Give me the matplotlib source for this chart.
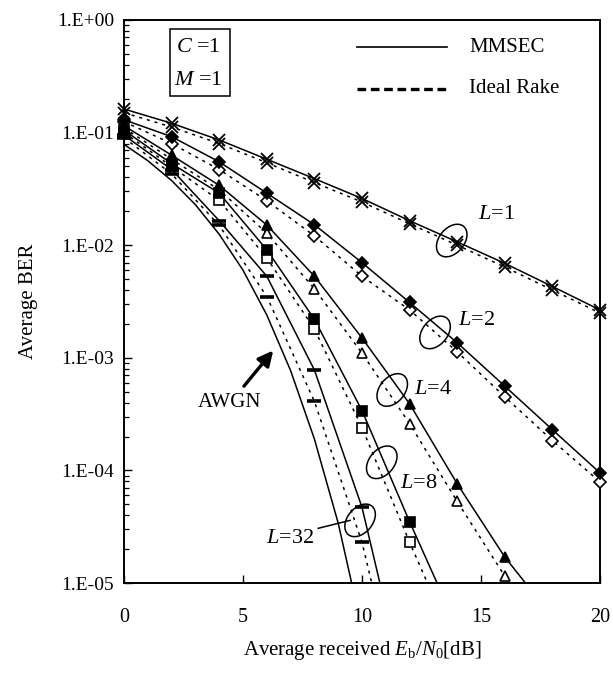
import numpy as np
import matplotlib
matplotlib.use("Agg")
import matplotlib.pyplot as plt
from matplotlib.patches import Ellipse, Rectangle
from matplotlib.lines import Line2D
import matplotlib.transforms as mtransforms
from matplotlib.ticker import LogLocator, NullFormatter, FixedLocator

plt.rcParams['font.family'] = ['Liberation Serif', 'DejaVu Serif']
plt.rcParams['mathtext.fontset'] = 'custom'
plt.rcParams['mathtext.rm'] = 'Liberation Serif'
plt.rcParams['mathtext.it'] = 'Liberation Serif:italic'

# ---------------- data ----------------
snr = [0, 2, 4, 6, 8, 10, 12, 14, 16, 18, 20]

L1_mmsec = [0.162, 0.121, 0.086, 0.058, 0.039, 0.026, 0.0165, 0.0107, 0.0069, 0.0043, 0.00266]
L1_ideal = [0.150, 0.112, 0.080, 0.054, 0.036, 0.0242, 0.0155, 0.0100, 0.0064, 0.0040, 0.00250]

L2_mmsec = [0.130, 0.092, 0.055, 0.029, 0.0152, 0.0070, 0.0031, 0.00136, 5.6e-4, 2.3e-4, 9.5e-5]
L2_ideal = [0.125, 0.080, 0.047, 0.0248, 0.0121, 0.0053, 0.00266, 0.00113, 4.5e-4, 1.84e-4, 7.9e-5]

snr_L4 = [0, 2, 4, 6, 8, 10, 12, 14, 16, 18]
L4_mmsec = [0.115, 0.063, 0.034, 0.0151, 0.0053, 0.0015, 3.9e-4, 7.6e-5, 1.7e-5, 5e-6]
L4_ideal = [0.110, 0.058, 0.031, 0.0128, 0.0041, 0.0011, 2.6e-4, 5.3e-5, 1.15e-5, 1.5e-6]

snr_L8 = [0, 2, 4, 6, 8, 10, 12, 14]
L8_mmsec = [0.105, 0.053, 0.029, 0.0091, 0.0022, 3.4e-4, 3.5e-5, 4e-6]
L8_ideal = [0.100, 0.050, 0.025, 0.0077, 0.0018, 2.4e-4, 2.3e-5, 2.5e-6]

snr_L32 = [0, 2, 4, 6, 8, 10, 11]
L32_mmsec = [0.095, 0.047, 0.0165, 0.0053, 7.8e-4, 4.7e-5, 6e-6]
L32_ideal = [0.090, 0.043, 0.0150, 0.0035, 4.1e-4, 2.3e-5, 3e-6]

snr_awgn = [0, 1, 2, 3, 4, 5, 6, 7, 8, 9, 10]
awgn = [0.0786, 0.0563, 0.0375, 0.0229, 0.0125, 0.0060, 0.0024, 7.7e-4, 1.9e-4, 3.4e-5, 3.9e-6]

y_ticks = [1, 1e-1, 1e-2, 1e-3, 1e-4, 1e-5]
y_tick_labels = ["1.E+00", "1.E-01", "1.E-02", "1.E-03", "1.E-04", "1.E-05"]
x_ticks = [0, 5, 10, 15, 20]

# ---------------- figure ----------------
W, H, DPI = 613, 674, 100
fig = plt.figure(figsize=(W / DPI, H / DPI), dpi=DPI)
ax = fig.add_axes([124 / W, 1 - 583 / H, (600 - 124) / W, (583 - 20) / H])
ax.set_yscale('log')
ax.set_xlim(0, 20)
ax.set_ylim(1e-5, 1)

k = 'black'
lw = 1.1
dash = (0, (2.0, 3.2))

def curve(x, y, ls):
    ax.plot(x, y, color=k, lw=lw, linestyle=ls, solid_capstyle='butt', zorder=2)

def marks(x, y, m, filled, ms, mew=1.2):
    xs = [a for a, b in zip(x, y) if b >= 1e-5]
    ys = [b for b in y if b >= 1e-5]
    ax.plot(xs, ys, linestyle='none', marker=m, ms=ms, mew=mew, mec=k,
            mfc=k if filled else 'white', zorder=3, clip_on=False)

# lines
curve(snr, L1_mmsec, '-')
curve(snr, L1_ideal, dash)
curve(snr, L2_mmsec, '-')
curve(snr, L2_ideal, dash)
curve(snr_L4, L4_mmsec, '-')
curve(snr_L4, L4_ideal, dash)
curve(snr_L8, L8_mmsec, '-')
curve(snr_L8, L8_ideal, dash)
curve(snr_L32, L32_mmsec, '-')
curve(snr_L32, L32_ideal, dash)
curve(snr_awgn, awgn, '-')

# markers
marks(snr, L1_mmsec, 'x', True, 9, 1.3)
marks(snr, L1_ideal, 'x', True, 9, 1.3)
marks(snr, L2_ideal, 'D', False, 6)
marks(snr, L2_mmsec, 'D', True, 6)
marks(snr_L4, L4_ideal, '^', False, 7.5)
marks(snr_L4, L4_mmsec, '^', True, 7.5)
marks(snr_L8[:-1], L8_ideal[:-1], 's', False, 6.5)
marks(snr_L8[:-1], L8_mmsec[:-1], 's', True, 6.5)
marks(snr_L32[:-1], L32_mmsec[:-1], '_', True, 10, 2.6)
marks(snr_L32[:-1], L32_ideal[:-1], '_', True, 10, 2.6)

# ticks
ax.yaxis.set_major_locator(FixedLocator(y_ticks))
ax.set_yticklabels(y_tick_labels)
ax.yaxis.set_minor_locator(LogLocator(base=10, subs=np.arange(2, 10), numticks=20))
ax.yaxis.set_minor_formatter(NullFormatter())
ax.set_xticks(x_ticks)
ax.set_xticklabels([str(v) for v in x_ticks])
ax.tick_params(axis='both', which='major', direction='in', length=6, width=1.0,
               colors=k)
ax.tick_params(axis='y', which='major', labelsize=14, pad=7)
ax.tick_params(axis='y', which='minor', direction='in', length=3.5, width=0.9)
ax.tick_params(axis='x', labelsize=14.5, pad=18)
for s in ax.spines.values():
    s.set_linewidth(1.4)

ax.set_xlabel(r"Average received $E_{\rm b}/N_{0}$[dB]", fontsize=15, labelpad=9)
ax.set_ylabel("Average BER", fontsize=15, labelpad=14)

# ellipses (pixel-size, centred on data points)
ell_centres = [(13.77, 0.011), (13.07, 0.00168), (11.27, 5.18e-4), (10.83, 1.18e-4), (9.92, 3.6e-5)]
for cx, cy in ell_centres:
    tr = fig.dpi_scale_trans + mtransforms.ScaledTranslation(cx, cy, ax.transData)
    ax.add_patch(Ellipse((0, 0), 0.37, 0.25, angle=50, fill=False, ec=k, lw=1.1,
                         transform=tr, zorder=4))

lab_pos = [(15.66, 0.0189, "1"), (14.82, 0.00213, "2"), (13.0, 5.28e-4, "4"),
           (12.37, 7.7e-5, "8"), (6.97, 2.46e-5, "32")]
for lx, ly, t in lab_pos:
    ax.text(lx, ly, r"$L$=" + t, fontsize=16, ha='center', va='center', zorder=5)
ax.plot([8.16, 9.5], [3.06e-5, 3.6e-5], color=k, lw=1.1, zorder=4)

ax.text(4.42, 4.0e-4, "AWGN", fontsize=15, ha='center', va='center')
ax.annotate("", xy=(6.27, 1.16e-3), xytext=(5.04, 5.6e-4),
            arrowprops=dict(arrowstyle='-|>,head_length=0.9,head_width=0.45',
                            color=k, lw=2.4, shrinkA=0, shrinkB=0))

# C / M box
ax.add_patch(Rectangle((0.0966, 0.865), 0.1261, 0.119, transform=ax.transAxes,
                       fill=False, ec=k, lw=1.1, zorder=5))
ax.text(0.156, 0.9515, r"$C$ =1", transform=ax.transAxes, fontsize=16,
        ha='center', va='center')
ax.text(0.156, 0.892, r"$M$ =1", transform=ax.transAxes, fontsize=16,
        ha='center', va='center')

# legend drawn by hand
ax.add_line(Line2D([0.4895, 0.678], [0.952, 0.952], transform=ax.transAxes,
                   color=k, lw=1.2))
ax.add_line(Line2D([0.4895, 0.678], [0.878, 0.878], transform=ax.transAxes,
                   color=k, lw=2.4, linestyle=(0, (2.6, 1.4))))
ax.text(0.725, 0.951, "MMSEC", transform=ax.transAxes, fontsize=15, va='center')
ax.text(0.725, 0.879, "Ideal Rake", transform=ax.transAxes, fontsize=15, va='center')

fig.savefig("out.png", dpi=DPI)
